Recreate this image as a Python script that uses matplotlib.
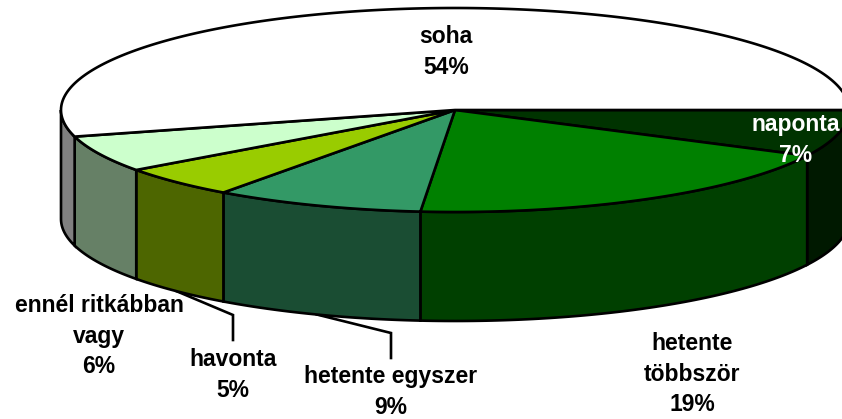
import matplotlib
matplotlib.use("Agg")
import matplotlib.pyplot as plt
from matplotlib.patches import Polygon
import numpy as np

plt.rcParams['font.family'] = ['Liberation Sans', 'DejaVu Sans']

# raw shares, the labels show them rounded
labels = ["naponta", "hetente\ntöbbször", "hetente egyszer", "havonta", "ennél ritkábban\nvagy", "soha"]
values = [7.4, 19.0, 8.6, 5.0, 5.8, 54.2]
top_colors = ["#003300", "#008000", "#339966", "#99cc00", "#ccffcc", "#ffffff"]
side_colors = ["#001900", "#004000", "#1a4d33", "#4d6600", "#668066", "#808080"]
label_pos = [(796, 140), (692, 374), (391, 392), (233, 375), (99, 336), (446, 52)]
label_colors = ["white", "black", "black", "black", "black", "black"]
# elbow of the leader line for the labels that have one
leaders = {2: [(391, 333), (391, 358)], 3: [(233, 315), (233, 340)]}

cx, cy = 455, 110
rx, ry = 394, 102
depth = 109
line_w = 1.9

def rim(deg, drop=0):
	t = np.radians(deg)
	return np.column_stack((cx + rx*np.cos(t), cy + ry*np.sin(t) + drop))

def main():
	fig = plt.figure(figsize=(8.42, 4.19), dpi=100)
	ax = fig.add_axes([0, 0, 1, 1])
	ax.set_xlim(0, 842)
	ax.set_ylim(419, 0)
	ax.axis("off")

	edges = np.concatenate(([0], np.cumsum(values)))*360.0/sum(values)

	# leader lines go under the pie
	for i, pts in leaders.items():
		mid = rim((edges[i]+edges[i+1])/2.0, depth)[0]
		xs = [mid[0]] + [p[0] for p in pts]
		ys = [mid[1]] + [p[1] for p in pts]
		ax.plot(xs, ys, color="black", lw=line_w, zorder=1, solid_joinstyle="miter")

	# side faces, only the front half of the rim shows
	for i in range(len(values)):
		a, b = edges[i], min(edges[i+1], 180)
		if a >= 180:
			continue
		arc = np.linspace(a, b, 80)
		pts = np.vstack((rim(arc), rim(arc, depth)[::-1]))
		ax.add_patch(Polygon(pts, closed=True, facecolor=side_colors[i], edgecolor="black", lw=line_w, zorder=2))

	# top of the pie
	for i in range(len(values)):
		arc = np.linspace(edges[i], edges[i+1], 200)
		pts = np.vstack(([[cx, cy]], rim(arc)))
		ax.add_patch(Polygon(pts, closed=True, facecolor=top_colors[i], edgecolor="black", lw=line_w, zorder=3))

	for i in range(len(values)):
		txt = labels[i] + "\n" + str(int(round(values[i]))) + "%"
		ax.text(label_pos[i][0], label_pos[i][1], txt, ha="center", va="center", color=label_colors[i],
			fontsize=16.5, fontweight="bold", linespacing=1.4, zorder=5)

	plt.savefig("out.png", dpi=100)

if __name__ == '__main__':
	main()
